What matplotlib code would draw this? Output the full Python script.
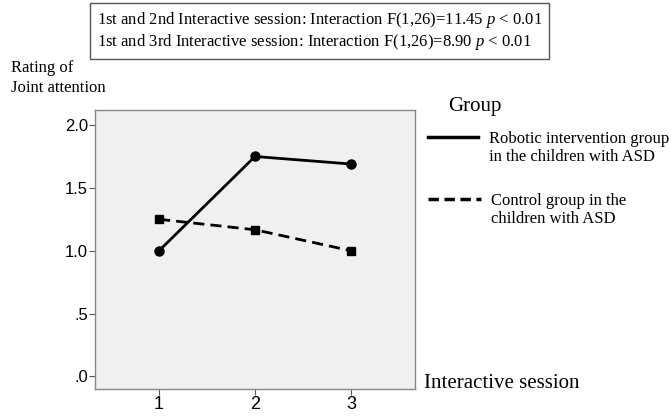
import numpy as np
from matplotlib import pyplot as plt
from matplotlib.lines import Line2D

# data
sessions = [1, 2, 3]
robotic = [1.00, 1.75, 1.69]
control = [1.25, 1.167, 1.00]
yticks = [0.0, 0.5, 1.0, 1.5, 2.0]
ytick_labels = ['.0', '.5', '1.0', '1.5', '2.0']

serif = 'Liberation Serif'
sans = 'Liberation Sans'
plt.rcParams['mathtext.fontset'] = 'custom'
plt.rcParams['mathtext.it'] = 'Liberation Serif:italic'
plt.rcParams['mathtext.rm'] = 'Liberation Serif'

fig = plt.figure(figsize=(6.71, 4.18), dpi=100)
ax = fig.add_axes([0.1416, 0.0694, 0.4769, 0.6675])
ax.set_facecolor('#f0f0f0')

ax.plot(sessions, robotic, color='black', lw=2, marker='o', ms=6.5)
ax.plot(sessions, control, color='black', lw=2, ls=(0, (4, 2.2)), marker='s', ms=6)

ax.set_xlim(0.333, 3.667)
ax.set_ylim(-0.1, 2.12)
ax.set_xticks(sessions)
ax.set_xticklabels([str(s) for s in sessions], fontfamily=sans, fontsize=13)
ax.set_yticks(yticks)
ax.set_yticklabels(ytick_labels, fontfamily=sans, fontsize=12)
ax.tick_params(direction='out', length=4, width=0.8, color='#555555', pad=1)
for sp in ax.spines.values():
    sp.set_color('#888888')
    sp.set_linewidth(1)

# axis titles
fig.text(11/671, 1 - 78/418, 'Rating of\nJoint attention', family=serif, fontsize=12,
         ha='left', va='center', linespacing=1.25)
fig.text(424/671, 1 - 384/418, 'Interactive session', family=serif, fontsize=15,
         ha='left', va='center')

# stats box
fig.text(97/671, 1 - 31/418,
         '1st and 2nd Interactive session: Interaction F(1,26)=11.45 $p$ < 0.01\n'
         '1st and 3rd Interactive session: Interaction F(1,26)=8.90 $p$ < 0.01',
         family=serif, fontsize=12, ha='left', va='center', linespacing=1.2,
         multialignment='left',
         bbox=dict(boxstyle='square,pad=0.4', fc='white', ec='#555555', lw=1))

# legend
fig.text(448/671, 1 - 106/418, 'Group', family=serif, fontsize=15, ha='left', va='center')
fig.add_artist(Line2D([428/671, 478/671], [1 - 137/418, 1 - 137/418], color='black', lw=2.5))
fig.add_artist(Line2D([428/671, 481/671], [1 - 199/418, 1 - 199/418], color='black', lw=2.5,
                      ls=(0, (3, 1.6))))
fig.text(489/671, 1 - 148/418, 'Robotic intervention group\nin the children with ASD',
         family=serif, fontsize=12, ha='left', va='center', linespacing=1.2)
fig.text(491/671, 1 - 210/418, 'Control group in the\nchildren with ASD',
         family=serif, fontsize=12, ha='left', va='center', linespacing=1.2)

fig.savefig('out.png', dpi=100)
